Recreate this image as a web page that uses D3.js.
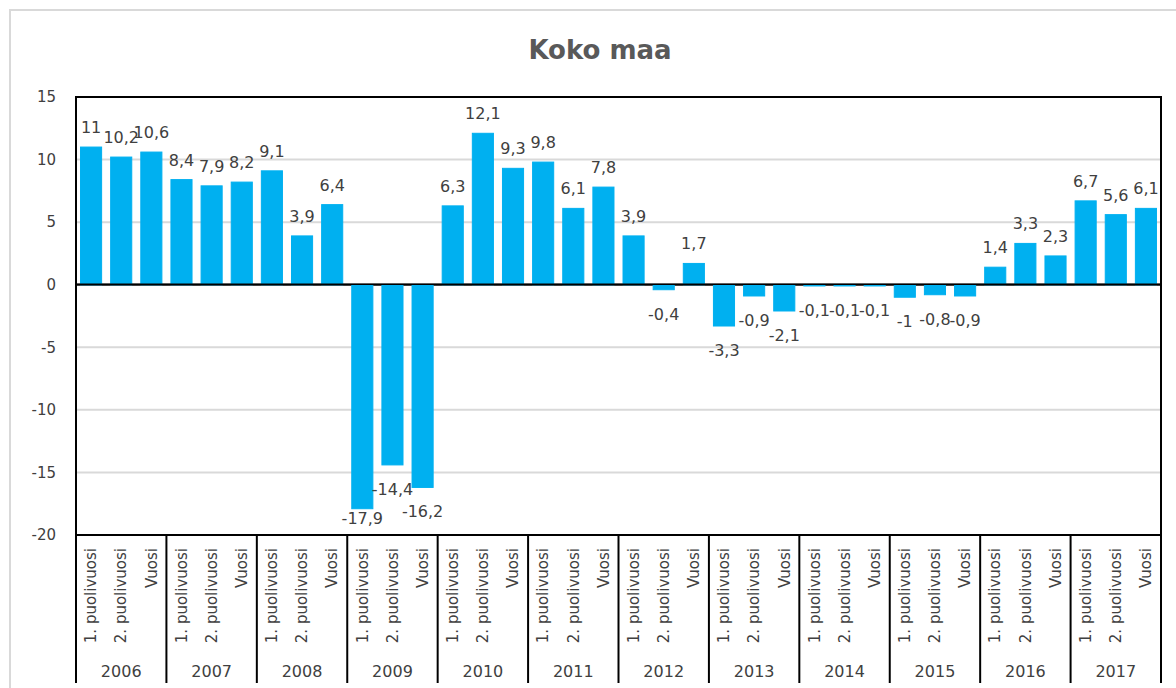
<!DOCTYPE html>
<html>
<head>
<meta charset="utf-8">
<script src="https://cdn.jsdelivr.net/npm/d3@7"></script>
<style>
  body { margin: 0; background: #fff; }
  svg { display: block; font-family: "DejaVu Sans", sans-serif; }
</style>
</head>
<body>
<svg id="chart" width="1176" height="688"></svg>
<script>
const years = ['2006', '2007', '2008', '2009', '2010', '2011', '2012', '2013', '2014', '2015', '2016', '2017'];
const periods = ['1. puolivuosi', '2. puolivuosi', 'Vuosi'];
const values = [
  11, 10.2, 10.6,
  8.4, 7.9, 8.2,
  9.1, 3.9, 6.4,
  -17.9, -14.4, -16.2,
  6.3, 12.1, 9.3,
  9.8, 6.1, 7.8,
  3.9, -0.4, 1.7,
  -3.3, -0.9, -2.1,
  -0.1, -0.1, -0.1,
  -1, -0.8, -0.9,
  1.4, 3.3, 2.3,
  6.7, 5.6, 6.1
];
const yTicks = [-20, -15, -10, -5, 0, 5, 10, 15];

const data = [];
years.forEach((yr, i) => {
  periods.forEach((p, j) => {
    data.push({ key: yr + '|' + p, year: yr, period: p, value: values[i * 3 + j] });
  });
});

const svg = d3.select('#chart');
const plotLeft = 76, plotRight = 1161, plotTop = 97, plotBottom = 535, catBottom = 683;

// outer chart area border
svg.append('rect')
  .attr('x', 10).attr('y', 10).attr('width', 1220).attr('height', 720)
  .attr('fill', 'none').attr('stroke', '#d9d9d9').attr('stroke-width', 2);

svg.append('text')
  .attr('x', 600).attr('y', 59)
  .attr('text-anchor', 'middle')
  .attr('font-size', 26).attr('font-weight', 'bold')
  .attr('fill', '#595959')
  .text('Koko maa');

const x = d3.scaleBand().domain(data.map(d => d.key)).range([plotLeft, plotRight]).paddingInner(0.3).paddingOuter(0.15);
const xYear = d3.scaleBand().domain(years).range([plotLeft, plotRight]);
const y = d3.scaleLinear().domain([-20, 15]).range([plotBottom, plotTop]);

// gridlines
svg.append('g')
  .selectAll('line')
  .data(yTicks.filter(t => t !== 0 && t !== 15 && t !== -20))
  .join('line')
  .attr('x1', plotLeft).attr('x2', plotRight)
  .attr('y1', d => y(d)).attr('y2', d => y(d))
  .attr('stroke', '#d9d9d9').attr('stroke-width', 2);

// y axis labels
const yAxis = svg.append('g')
  .attr('transform', `translate(${plotLeft},0)`)
  .call(d3.axisLeft(y).tickValues(yTicks).tickSize(0).tickPadding(20).tickFormat(d => String(d)));
yAxis.select('.domain').remove();
yAxis.selectAll('text').attr('font-size', 15).attr('fill', '#404040').attr('font-family', '"DejaVu Sans", sans-serif');

// zero line (under the bars so tiny bars stay visible)
svg.append('line')
  .attr('x1', plotLeft).attr('x2', plotRight)
  .attr('y1', y(0)).attr('y2', y(0))
  .attr('stroke', '#000').attr('stroke-width', 2);

// bars
svg.append('g')
  .selectAll('rect')
  .data(data)
  .join('rect')
  .attr('x', d => x(d.key))
  .attr('width', x.bandwidth())
  .attr('y', d => y(Math.max(0, d.value)))
  .attr('height', d => Math.abs(y(d.value) - y(0)))
  .attr('fill', '#00b0f0')
  .attr('stroke', '#00b0f0').attr('stroke-width', 1);

// zero line over the bars, thinner
svg.append('line')
  .attr('x1', plotLeft).attr('x2', plotRight)
  .attr('y1', y(0) - 0.5).attr('y2', y(0) - 0.5)
  .attr('stroke', '#000').attr('stroke-width', 1.5);

// data labels
const fmt = v => String(v).replace('.', ',');
svg.append('g')
  .selectAll('text')
  .data(data)
  .join('text')
  .attr('x', d => x(d.key) + x.bandwidth() / 2)
  .attr('y', d => d.value >= 0 ? y(d.value) - 14 : Math.min(y(d.value) + 30, plotBottom - 11))
  .attr('text-anchor', 'middle')
  .attr('font-size', 16)
  .attr('fill', '#404040')
  .text(d => fmt(d.value));

// plot border
svg.append('rect')
  .attr('x', plotLeft).attr('y', plotTop).attr('width', plotRight - plotLeft).attr('height', plotBottom - plotTop)
  .attr('fill', 'none').attr('stroke', '#000').attr('stroke-width', 2);

// group separators below axis
const seps = years.map(yr => xYear(yr)).concat([plotRight]);
svg.append('g')
  .selectAll('line')
  .data(seps)
  .join('line')
  .attr('x1', d => d).attr('x2', d => d)
  .attr('y1', plotBottom).attr('y2', catBottom)
  .attr('stroke', '#000').attr('stroke-width', 2);

// period labels
const xAxis = svg.append('g')
  .attr('transform', `translate(0,${plotBottom})`)
  .call(d3.axisBottom(x).tickSize(0).tickFormat(k => k.split('|')[1]));
xAxis.select('.domain').remove();
xAxis.selectAll('text')
  .attr('font-size', 15).attr('fill', '#404040')
  .attr('font-family', '"DejaVu Sans", sans-serif')
  .attr('text-anchor', 'end')
  .attr('transform', 'rotate(-90)')
  .attr('x', -13).attr('y', 0).attr('dy', '0.35em');

// year labels
svg.append('g')
  .selectAll('text')
  .data(years)
  .join('text')
  .attr('x', d => xYear(d) + xYear.bandwidth() / 2)
  .attr('y', 677)
  .attr('text-anchor', 'middle')
  .attr('font-size', 16)
  .attr('fill', '#404040')
  .text(d => d);
</script>
</body>
</html>
